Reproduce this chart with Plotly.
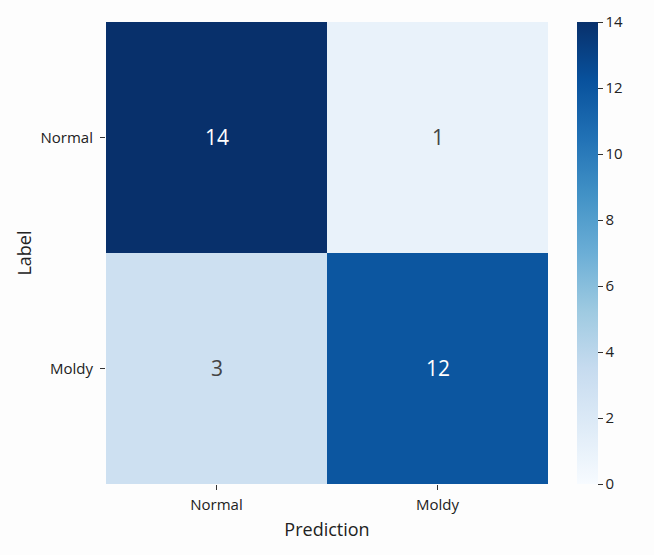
import plotly.graph_objects as go
import plotly.colors as pc

pred_labels = ["Normal", "Moldy"]
true_labels = ["Normal", "Moldy"]
counts = [[14, 1],
          [3, 12]]
cbar_ticks = [0, 2, 4, 6, 8, 10, 12, 14]

FONT = "Open Sans, Noto Sans, sans-serif"
blues = pc.sequential.Blues
scale = [[i / (len(blues) - 1), c] for i, c in enumerate(blues)]

fig = go.Figure(go.Heatmap(
    z=counts, x=pred_labels, y=true_labels,
    colorscale=scale, zmin=0, zmax=14,
    texttemplate="%{z}", textfont=dict(size=21, family=FONT),
    xgap=0, ygap=0,
    colorbar=dict(
        x=1.0656, xanchor="left", xpad=0, y=0.5, yanchor="middle",
        len=1, lenmode="fraction", thickness=21, outlinewidth=0,
        tickvals=cbar_ticks, ticks="outside", ticklen=5, tickcolor="#333",
        tickfont=dict(size=15, family=FONT, color="#222"), ypad=0,
    ),
))

fig.update_layout(
    width=654, height=555,
    margin=dict(l=106, r=106, t=22, b=71),
    paper_bgcolor="#fdfdfd", plot_bgcolor="#fdfdfd",
    font=dict(family=FONT, color="#222"),
    xaxis=dict(title=dict(text="Prediction", font=dict(size=18), standoff=10),
               ticks="outside", ticklen=5, tickcolor="#333", ticklabelstandoff=2,
               tickfont=dict(size=15), showgrid=False, zeroline=False),
    yaxis=dict(title=dict(text="Label", font=dict(size=18), standoff=4),
               autorange="reversed", ticks="outside", ticklen=5, tickcolor="#333",
               ticklabelstandoff=4,
               tickfont=dict(size=15), showgrid=False, zeroline=False),
)

fig.write_html("out.html")
